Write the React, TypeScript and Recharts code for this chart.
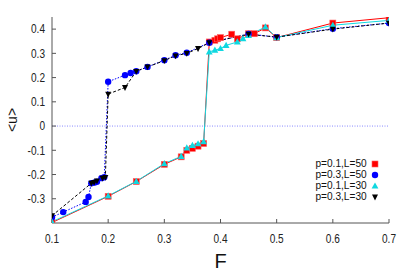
import { LineChart, Line, XAxis, YAxis, ReferenceLine } from "recharts";

// p=0.1, L=50 (red squares)
const redF = [0.1, 0.2, 0.25, 0.3, 0.33, 0.34, 0.35, 0.36, 0.37, 0.38, 0.39, 0.395, 0.4, 0.42, 0.43, 0.45, 0.46, 0.48, 0.5, 0.6, 0.7];
const redU = [-0.398, -0.29, -0.229, -0.158, -0.127, -0.1, -0.092, -0.083, -0.072, 0.347, 0.354, 0.36, 0.365, 0.379, 0.36, 0.381, 0.381, 0.405, 0.365, 0.425, 0.447];

// p=0.3, L=50 (blue circles)
const blueF = [0.1, 0.12, 0.16, 0.165, 0.17, 0.176, 0.18, 0.188, 0.193, 0.2, 0.23, 0.24, 0.25, 0.27, 0.3, 0.32, 0.34, 0.38, 0.45, 0.5, 0.6, 0.7];
const blueU = [-0.376, -0.355, -0.313, -0.293, -0.236, -0.233, -0.23, -0.215, -0.211, 0.183, 0.21, 0.219, 0.226, 0.244, 0.272, 0.292, 0.303, 0.344, 0.38, 0.367, 0.402, 0.425];

// p=0.1, L=30 (cyan triangles)
const cyanF = [0.1, 0.2, 0.25, 0.3, 0.33, 0.34, 0.35, 0.36, 0.37, 0.38, 0.39, 0.4, 0.41, 0.43, 0.44, 0.45, 0.48, 0.5, 0.6, 0.7];
const cyanU = [-0.395, -0.288, -0.228, -0.155, -0.125, -0.09, -0.08, -0.073, -0.064, 0.306, 0.313, 0.32, 0.333, 0.347, 0.361, 0.374, 0.409, 0.365, 0.416, 0.436];

// p=0.3, L=30 (black down triangles)
const blackF = [0.1, 0.17, 0.175, 0.18, 0.19, 0.195, 0.2, 0.23, 0.25, 0.27, 0.3, 0.32, 0.34, 0.36, 0.38, 0.45, 0.5, 0.6, 0.7];
const blackU = [-0.37, -0.236, -0.232, -0.226, -0.215, -0.212, 0.132, 0.159, 0.226, 0.244, 0.27, 0.29, 0.3, 0.32, 0.344, 0.379, 0.367, 0.4, 0.425];

const xTicks = [0.1, 0.2, 0.3, 0.4, 0.5, 0.6, 0.7];
const yTicks = [-0.3, -0.2, -0.1, 0, 0.1, 0.2, 0.3, 0.4];

const series = [
  { name: "p=0.1,L=50", F: redF, u: redU, color: "#ff0000", marker: "square", dash: undefined },
  { name: "p=0.3,L=50", F: blueF, u: blueU, color: "#0000ff", marker: "circle", dash: "1.5 1.5" },
  { name: "p=0.1,L=30", F: cyanF, u: cyanU, color: "#10d8e0", marker: "up", dash: undefined },
  { name: "p=0.3,L=30", F: blackF, u: blackU, color: "#000000", marker: "down", dash: "3 2" },
];

const font = "'Liberation Sans', Arial, sans-serif";

function Marker({ type, cx, cy, color }: { type: string; cx: number; cy: number; color: string }) {
  if (type === "square") return <rect x={cx - 3} y={cy - 3} width={6} height={6} fill={color} stroke="#ff6060" strokeWidth={0.6} />;
  if (type === "circle") return <circle cx={cx} cy={cy} r={3.2} fill={color} />;
  if (type === "up") return <polygon points={`${cx},${cy - 3.6} ${cx - 3.4},${cy + 2.6} ${cx + 3.4},${cy + 2.6}`} fill={color} />;
  return <polygon points={`${cx},${cy + 3.4} ${cx - 3},${cy - 2.4} ${cx + 3},${cy - 2.4}`} fill={color} />;
}

const makeDot = (type: string, color: string) => (props: any) => (
  <Marker key={`${type}-${props.index}`} type={type} cx={props.cx} cy={props.cy} color={color} />
);

// narrow tick label, like the condensed font of the original
const NarrowTick = (anchor: string) => (props: any) => (
  <text
    x={props.x}
    y={props.y}
    textAnchor={anchor}
    dominantBaseline="central"
    fontFamily={font}
    fontSize={12}
    fill="#222"
    transform={`translate(${props.x} 0) scale(0.84 1) translate(${-props.x} 0)`}
  >
    {props.payload.value}
  </text>
);

export default function App() {
  return (
    <div style={{ position: "absolute", left: 0, top: 0, width: 409, height: 273, background: "#fff" }}>
      <LineChart width={409} height={273} margin={{ top: 17, right: 20, bottom: 0, left: 0 }}>
        <XAxis
          type="number"
          dataKey="F"
          domain={[0.1, 0.7]}
          ticks={xTicks}
          interval={0}
          allowDataOverflow
          height={50}
          stroke="#555"
          tickSize={-4}
          tickMargin={20}
          tick={NarrowTick("middle")}
          label={{ value: "F", position: "insideBottom", offset: 5, fontSize: 20, fontFamily: font, fill: "#111" }}
        />
        <XAxis
          xAxisId="top"
          orientation="top"
          type="number"
          domain={[0.1, 0.7]}
          ticks={xTicks}
          interval={0}
          height={0}
          stroke="#555"
          tickSize={-4}
          tick={false}
        />
        <YAxis
          type="number"
          domain={[-0.4, 0.45]}
          ticks={yTicks}
          interval={0}
          allowDataOverflow
          width={52}
          stroke="#555"
          tickSize={-4}
          tickMargin={11}
          tick={NarrowTick("end")}
          label={{
            content: (p: any) => {
              const vb = p.viewBox || { x: 0, y: 17, width: 52, height: 206 };
              const x = vb.x + 12;
              const y = vb.y + vb.height / 2;
              return (
                <text x={x} y={y} transform={`rotate(-90 ${x} ${y})`} textAnchor="middle" dominantBaseline="central" fontFamily={font} fontSize={14} fill="#111">
                  {"<u>"}
                </text>
              );
            },
          }}
        />
        <YAxis yAxisId="right" orientation="right" type="number" domain={[-0.4, 0.45]} ticks={yTicks} interval={0} width={0} stroke="#555" tickSize={-4} tick={false} />
        <ReferenceLine y={0} stroke="#6a6aff" strokeDasharray="1 1.5" strokeWidth={0.8} />
        {series.map((s) => (
          <Line
            key={s.name}
            data={s.F.map((f, i) => ({ F: f, u: s.u[i] }))}
            dataKey="u"
            name={s.name}
            stroke={s.color}
            strokeWidth={1}
            strokeDasharray={s.dash}
            dot={makeDot(s.marker, s.color)}
            activeDot={false}
            isAnimationActive={false}
          />
        ))}
      </LineChart>
      <div style={{ position: "absolute", left: 250, top: 158, width: 131, fontFamily: font, fontSize: 11, color: "#111" }}>
        {series.map((s) => (
          <div key={s.name} style={{ display: "flex", justifyContent: "flex-end", alignItems: "center", height: 11, lineHeight: "11px" }}>
            <span style={{ display: "inline-block", transform: "scaleX(0.92)", transformOrigin: "right center" }}>{s.name}</span>
            <svg width={12} height={10} style={{ marginLeft: 2 }}>
              <Marker type={s.marker} cx={6} cy={5} color={s.color} />
            </svg>
          </div>
        ))}
      </div>
    </div>
  );
}
